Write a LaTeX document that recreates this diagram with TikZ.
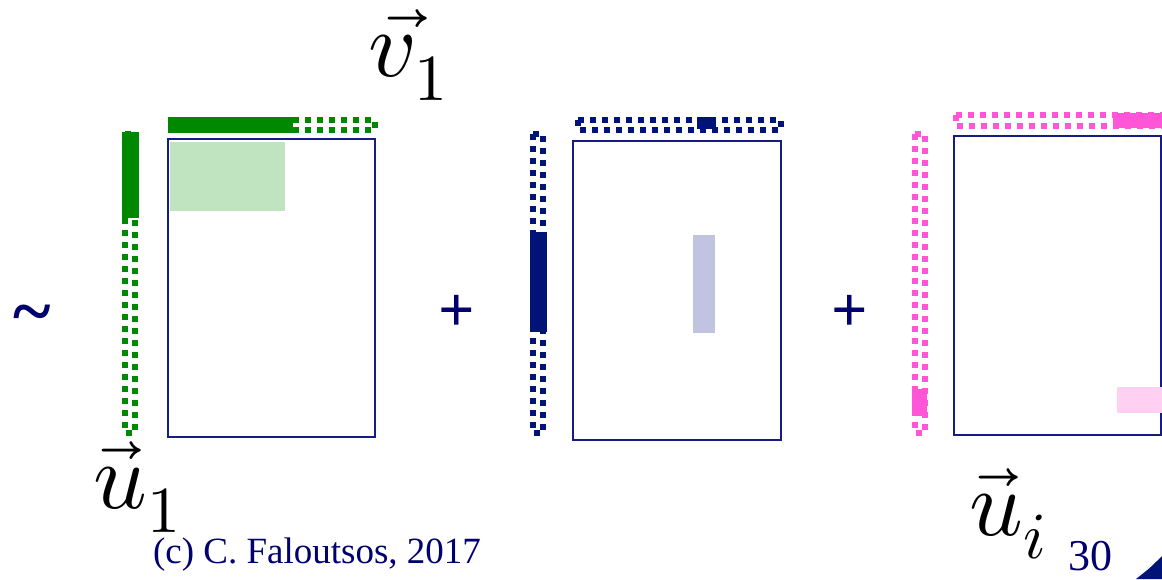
\documentclass[tikz,border=0pt]{standalone}
\usepackage{fontspec}
\setmainfont{Liberation Serif}
\usepackage{unicode-math}
\setmathfont{Latin Modern Math}
\definecolor{navytext}{RGB}{0,0,110}
\definecolor{navybar}{RGB}{0,20,120}
\definecolor{framec}{RGB}{20,30,130}
\definecolor{gbar}{RGB}{0,136,0}
\definecolor{gfill}{RGB}{192,228,192}
\definecolor{bfill}{RGB}{192,196,224}
\definecolor{pbar}{RGB}{255,85,214}
\definecolor{pfill}{RGB}{255,208,242}
\tikzset{
  matframe/.style={draw=framec, line width=1.6pt},
  dotbar/.style={line width=6pt, dash pattern=on 6pt off 6pt},
  bigmath/.style={inner sep=0pt, font=\fontsize{94}{94}\selectfont},
  sign/.style={inner sep=0pt, text=navytext, font=\fontsize{64}{64}\selectfont\bfseries},
}
\begin{document}
\begin{tikzpicture}[x=1pt,y=-1pt]
\useasboundingbox (0,0) rectangle (1162,579);
% ---- component 1 (green)
\draw[matframe] (168,139) rectangle (375,437);
\fill[gfill] (170,142) rectangle (285,211);
\draw[dotbar, gbar] (125,134) rectangle (135,433);
\fill[gbar] (122,132) rectangle (139,218);
\draw[dotbar, gbar] (171,120) rectangle (375,130);
\fill[gbar] (168,117) rectangle (293,133);
% ---- component 2 (blue)
\draw[matframe] (573,141) rectangle (781,440);
\fill[bfill] (693,235) rectangle (715,333);
\draw[dotbar, navybar] (533,134) rectangle (543,433);
\fill[navybar] (530,232) rectangle (547,332);
\draw[dotbar, navybar] (578,120) rectangle (781,130);
\fill[navybar] (697,117) rectangle (716,129);
% ---- component 3 (pink)
\draw[matframe] (954,136) rectangle (1161,435);
\fill[pfill] (1117,387) rectangle (1162,413);
\draw[dotbar, pbar] (915,134) rectangle (925,433);
\fill[pbar] (912,389) rectangle (927,416);
\draw[dotbar, pbar] (956,115) rectangle (1170,126);
\fill[pbar] (1113,113) rectangle (1162,128);
% ---- signs and labels
\node[sign, font=\fontsize{72}{72}\selectfont\bfseries] (approx) at (32,320) {\textasciitilde};
\node[sign] (plus1) at (457,313) {+};
\node[sign] (plus2) at (850,313) {+};
\node[bigmath] (v1) at (408,55) {$\vec{v_1}$};
\node[bigmath] (u1) at (137,487) {$\vec{u}_1$};
\node[bigmath] (ui) at (1008,514) {$\vec{u}_i$};
\node[inner sep=0pt, text=navytext, font=\fontsize{37}{37}\selectfont] (copy) at (317,555) {(c) C. Faloutsos, 2017};
\node[inner sep=0pt, text=navytext, font=\fontsize{44}{44}\selectfont] (page) at (1090,556) {30};
\fill[navybar] (1136,579) .. controls (1150,568) .. (1162,556) -- (1162,579) -- cycle;
\end{tikzpicture}
\end{document}
